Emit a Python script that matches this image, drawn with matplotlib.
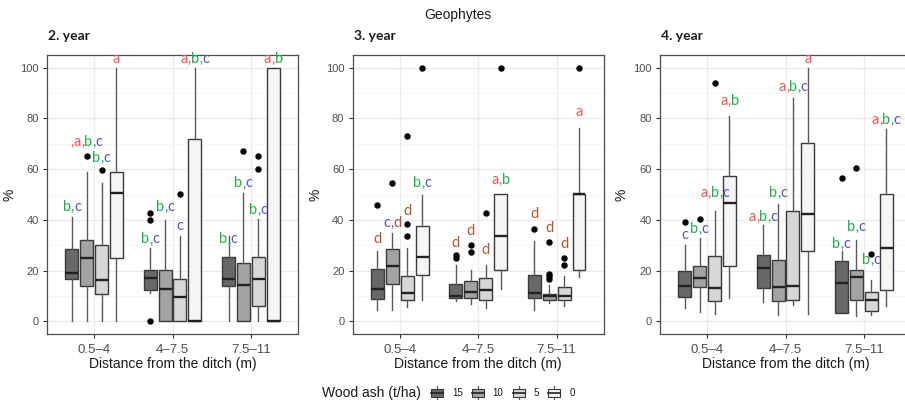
import matplotlib
matplotlib.use("Agg")
import matplotlib.pyplot as plt
from matplotlib.patches import Rectangle
from matplotlib.lines import Line2D
from matplotlib.legend_handler import HandlerBase
from matplotlib.offsetbox import TextArea, HPacker, AnnotationBbox

# ---------------- data ----------------
distances = ["0.5\u20134", "4\u20137.5", "7.5\u201311"]
ash_levels = ["15", "10", "5", "0"]
years = ["2. year", "3. year", "4. year"]

# rows = distance class, cols = wood ash level (15, 10, 5, 0)
y2_whislo = [[0, 0, 0, 0], [11, 0, 0, 0], [0, 0, 0, 0]]
y2_q1 = [[16.8, 14.0, 10.9, 24.9], [12.5, 0, 0, 0], [14.1, 0, 6.2, 0]]
y2_med = [[19.1, 24.8, 16.4, 50.5], [17.1, 12.7, 9.5, 0], [16.8, 14.4, 16.8, 0]]
y2_q3 = [[28.6, 32.1, 30.2, 58.7], [20.4, 20.1, 16.8, 71.8], [25.2, 23.0, 25.2, 100]]
y2_whishi = [[41, 59, 54.7, 100], [28.9, 40, 33.5, 100], [33.5, 50.5, 40.3, 100]]
y2_fliers = [[[], [65.3], [59.7], []], [[0, 40, 42.9], [], [50.1], []], [[], [67.2], [65.3, 60], []]]
y2_letters = [["b,c", ",a,b,c", "b,c", "a"], ["b,c", "b,c", "c", "a,b,c"], ["b,c", "b,c", "b,c", "a,b"]]
y2_label_y = [[42.5, 67.9, 61.7, 100.8], [29.5, 42.3, 35, 100.8], [29.5, 51.6, 41, 100.8]]

y3_whislo = [[4.6, 4.6, 5.6, 8.3], [7.9, 7.0, 5.3, 12.7], [4.6, 7.2, 6.2, 17.5]]
y3_q1 = [[8.8, 14.8, 8.3, 18.1], [9.2, 9.2, 8.5, 20.1], [9.2, 8.5, 8.5, 20.1]]
y3_med = [[12.7, 22.0, 11.1, 25.3], [10.1, 11.4, 12.2, 33.5], [11.2, 9.8, 10.1, 50.3]]
y3_q3 = [[20.6, 28.6, 17.7, 37.4], [14.7, 16.0, 17.1, 50.3], [18.3, 10.9, 13.5, 50.3]]
y3_whishi = [[27.9, 34.8, 28.9, 49.8], [22.3, 20.4, 22.3, 50.3], [31.5, 14.4, 18.0, 76.4]]
y3_fliers = [[[45.9], [54.7], [38.3, 33.7, 72.9], [100]],
             [[26.3, 25.0], [30.2, 27.4], [42.7], [100]],
             [[36.5], [31.1, 18.6, 17.7, 16.8], [25.0, 22.3], [100]]]
y3_letters = [["d", "c,d", "d", "b,c"], ["d", "d", "d", "a,b"], ["d", "d", "d", "a"]]
y3_label_y = [[29.5, 36, 40.6, 51.8], [28.2, 32.8, 25.3, 53.1], [39.4, 34.1, 27.6, 79.7]]

y4_whislo = [[5.2, 3.5, 2.9, 9.2], [7.5, 2.6, 6.6, 2.9], [3.3, 2.2, 2.6, 6.2]]
y4_q1 = [[9.4, 13.5, 7.9, 22.0], [13.1, 7.9, 8.3, 27.9], [3.3, 8.5, 3.9, 12.2]]
y4_med = [[13.8, 17.0, 13.1, 46.6], [21.0, 13.4, 14.0, 42.2], [15.1, 17.5, 8.3, 28.9]]
y4_q3 = [[19.7, 21.9, 25.6, 57.4], [26.2, 24.3, 43.5, 70.3], [23.6, 20.4, 11.4, 50.1]]
y4_whishi = [[29.9, 32.8, 43.3, 81], [37.8, 46.3, 88.2, 100], [27.6, 31.9, 16.1, 75.7]]
y4_fliers = [[[39], [40.3], [94], []], [[], [], [], []], [[56.7], [60.6], [26.5], []]]
y4_letters = [["c", "b,c", "a,b,c", "a,b"], ["a,b,c", "b,c", "a,b,c", "a"], ["b,c", "b,c", "b,c", "a,b,c"]]
y4_label_y = [[31.1, 33.7, 47.9, 84], [38.3, 47.9, 89.6, 100.8], [27.6, 34.5, 21.4, 76.8]]

# ---------------- style ----------------
box_colors = ["#686868", "#a3a3a3", "#d7d7d7", "#f3f5f7"]
letter_colors = {"a": "#F2545B", "b": "#21B04B", "c": "#5A52C7", "d": "#B4562A"}
edge_col = "#3a3a3a"
whisk_col = "#5a5a5a"
offsets = [-0.285, -0.095, 0.095, 0.285]
box_w = 0.165

W, H = 905, 405
fig = plt.figure(figsize=(W / 100, H / 100), dpi=100)


def fx(px):
    return px / W


def fy(py):
    return 1 - py / H


panel_left = [47, 352.7, 660]
ylabel_right = [17, 322, 628]
ax_top, ax_bot = 55, 334
ax_w = 251

year_data = [
    (y2_whislo, y2_q1, y2_med, y2_q3, y2_whishi, y2_fliers, y2_letters, y2_label_y),
    (y3_whislo, y3_q1, y3_med, y3_q3, y3_whishi, y3_fliers, y3_letters, y3_label_y),
    (y4_whislo, y4_q1, y4_med, y4_q3, y4_whishi, y4_fliers, y4_letters, y4_label_y),
]


def colored_label(ax, x, y, s):
    parts = []
    for k, ch in enumerate(s):
        if ch == ",":
            prev = s[k - 1] if k > 0 else s[k + 1]
            col = letter_colors.get(prev, "#000000")
        else:
            col = letter_colors.get(ch, "#000000")
        parts.append(TextArea(ch, textprops=dict(color=col, fontsize=10.5, family="Lato")))
    box = HPacker(children=parts, align="baseline", pad=0, sep=0)
    ab = AnnotationBbox(box, (x, y), xycoords="data", box_alignment=(0.5, 0),
                        frameon=False, pad=0, annotation_clip=False)
    ax.add_artist(ab)


for p, (left, title, data) in enumerate(zip(panel_left, years, year_data)):
    whislo, q1, med, q3, whishi, fliers, letters, label_y = data
    ax = fig.add_axes([fx(left), fy(ax_bot), ax_w / W, (ax_bot - ax_top) / H])
    stats, positions, cols = [], [], []
    for i in range(len(distances)):
        for j in range(len(ash_levels)):
            stats.append(dict(whislo=whislo[i][j], q1=q1[i][j], med=med[i][j], q3=q3[i][j],
                              whishi=whishi[i][j], fliers=fliers[i][j]))
            positions.append(i + 1 + offsets[j])
            cols.append(box_colors[j])
    res = ax.bxp(stats, positions=positions, widths=box_w, patch_artist=True, showcaps=False,
                 boxprops=dict(edgecolor=edge_col, linewidth=1.0),
                 whiskerprops=dict(color=whisk_col, linewidth=1.0),
                 medianprops=dict(color="#222222", linewidth=1.7, solid_capstyle="butt"),
                 flierprops=dict(marker="o", markerfacecolor="black", markeredgecolor="black",
                                 markersize=3.6, linestyle="none"),
                 manage_ticks=False)
    for patch, c in zip(res["boxes"], cols):
        patch.set_facecolor(c)
    for i in range(len(distances)):
        for j in range(len(ash_levels)):
            colored_label(ax, i + 1 + offsets[j], label_y[i][j], letters[i][j])

    ax.set_xlim(0.4, 3.6)
    ax.set_ylim(-5, 105)
    ax.set_xticks([1, 2, 3])
    ax.set_xticklabels(distances, fontsize=9.5, color="#4d4d4d", family="Liberation Sans")
    ax.set_yticks([0, 20, 40, 60, 80, 100])
    ax.set_yticks([10, 30, 50, 70, 90], minor=True)
    ax.tick_params(axis="y", labelsize=8, labelcolor="#4d4d4d")
    for t in ax.get_yticklabels():
        t.set_family("Liberation Sans")
    ax.tick_params(which="major", length=3, width=0.8, color="#333333", pad=3)
    ax.tick_params(axis="x", pad=4)
    ax.tick_params(which="minor", length=0)
    ax.grid(which="major", color="#ebebeb", linewidth=0.9)
    ax.grid(which="minor", color="#f3f3f3", linewidth=0.5)
    ax.set_axisbelow(True)
    for s in ax.spines.values():
        s.set_color("#4d4d4d")
        s.set_linewidth(0.9)
    ax.set_xlabel("Distance from the ditch (m)", fontsize=10, family="Liberation Sans", color="#1a1a1a")
    ax.xaxis.set_label_coords(0.5, -(357 - ax_bot) / (ax_bot - ax_top))
    ax.set_ylabel("%", fontsize=10, family="Liberation Sans", color="#1a1a1a")
    ax.yaxis.set_label_coords(-(left - ylabel_right[p]) / ax_w, 0.5)
    fig.text(fx(left + 1), fy(40), title, fontsize=10, family="Lato", weight="bold",
             color="#1a1a1a", ha="left", va="baseline")

fig.text(fx(457.5), fy(15), "Geophytes", fontsize=10, family="Liberation Sans",
         color="#1a1a1a", ha="center", va="center")


# ---------------- legend ----------------
class HandlerBox(HandlerBase):
    def create_artists(self, legend, orig_handle, xdescent, ydescent, width, height, fontsize, trans):
        x0, y0 = -xdescent, -ydescent
        fc = orig_handle.get_facecolor()
        wl = Line2D([x0 + width / 2] * 2, [y0 - 0.15 * height, y0 + 1.15 * height],
                    color=whisk_col, lw=0.9, transform=trans)
        rect = Rectangle((x0, y0 + 0.12 * height), width, 0.76 * height, facecolor=fc,
                         edgecolor=edge_col, lw=0.8, transform=trans)
        md = Line2D([x0, x0 + width], [y0 + height / 2] * 2, color="#222222", lw=1.2,
                    transform=trans)
        return [wl, rect, md]


handles = [Rectangle((0, 0), 1, 1, facecolor=c) for c in box_colors]
fig.text(fx(322), fy(393), "Wood ash (t/ha)", fontsize=10, family="Liberation Sans",
         color="#1a1a1a", ha="left", va="center")
leg = fig.legend(handles, ash_levels, ncol=4, loc="center left",
                 bbox_to_anchor=(fx(431), fy(393)), frameon=False, fontsize=7,
                 handlelength=1.25, handleheight=1.2, handletextpad=0.9, columnspacing=0.95,
                 borderpad=0, borderaxespad=0,
                 handler_map={Rectangle: HandlerBox()})
for t in leg.get_texts():
    t.set_family("Liberation Sans")
    t.set_color("#1a1a1a")

fig.savefig("out.png", dpi=100)
